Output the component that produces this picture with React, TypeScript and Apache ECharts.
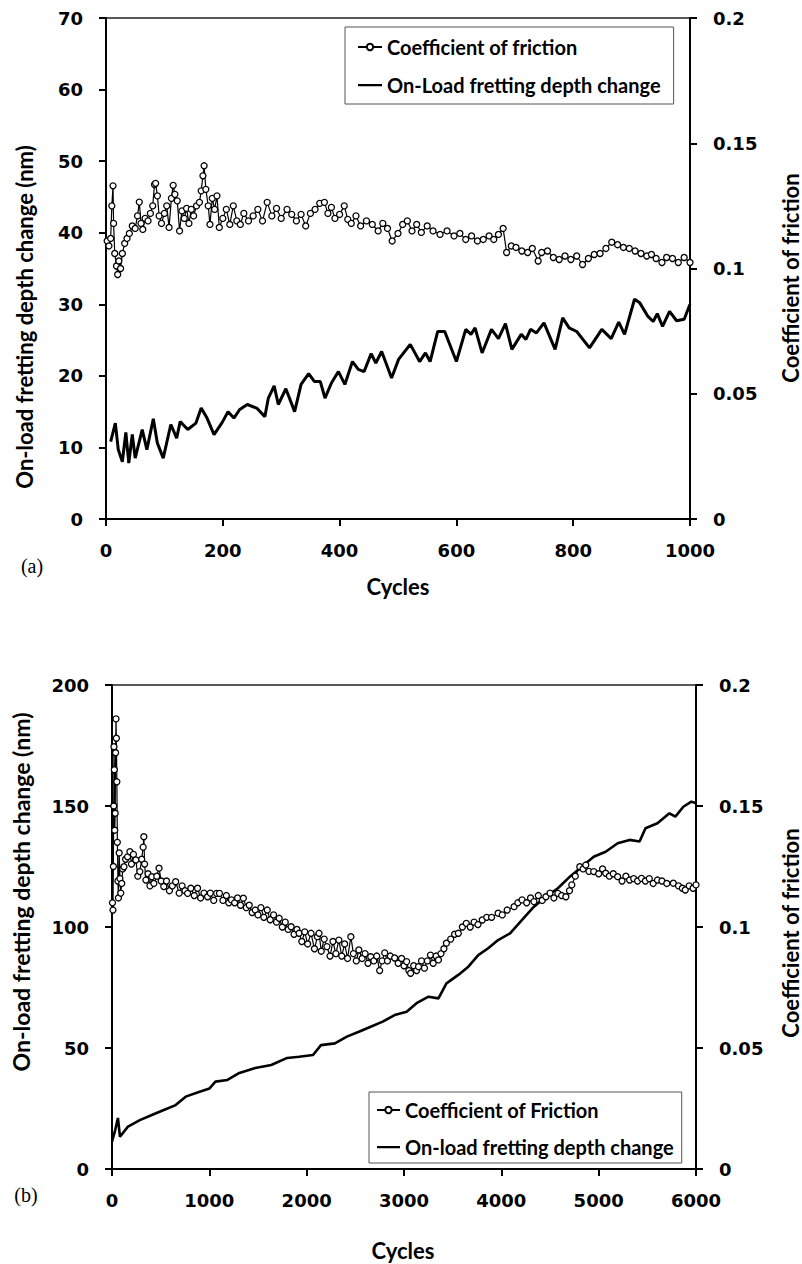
import React, { useEffect, useRef } from "react";
import * as echarts from "echarts";

// ---------- Chart (a) data: cycles 0-1000 ----------
const depthA: [number, number][] = [
  [8, 10.8], [16, 13.4], [21, 9.7], [28, 8.0], [34, 12.1], [39, 7.8], [45, 11.8], [50, 8.5],
  [62, 12.5], [70, 9.7], [81, 14.0], [88, 10.6], [98, 8.5], [111, 13.2], [121, 11.3], [127, 13.6],
  [140, 12.5], [154, 13.4], [163, 15.5], [173, 14.1], [185, 11.8], [199, 13.5], [209, 15.0],
  [219, 14.1], [229, 15.3], [242, 16.0], [258, 15.5], [272, 14.3], [278, 16.9], [288, 18.6],
  [295, 16.0], [308, 18.2], [323, 15.0], [334, 18.8], [347, 20.3], [357, 19.2], [367, 19.2],
  [375, 16.9], [386, 19.0], [398, 20.6], [409, 18.8], [422, 22.0], [432, 20.9], [442, 20.6],
  [454, 23.1], [462, 21.8], [472, 23.4], [489, 19.7], [501, 22.3], [521, 24.4], [537, 22.0],
  [547, 23.2], [555, 22.0], [568, 26.2], [580, 26.2], [600, 22.0], [616, 26.5], [625, 25.8],
  [632, 26.7], [644, 23.2], [660, 26.5], [672, 25.2], [684, 27.3], [695, 23.7], [711, 25.8],
  [719, 25.1], [727, 26.5], [737, 26.0], [750, 27.4], [769, 23.7], [782, 28.1], [793, 26.7],
  [806, 26.2], [828, 23.9], [849, 26.5], [865, 25.2], [878, 27.5], [888, 25.8], [905, 30.7],
  [914, 30.2], [928, 28.3], [937, 27.6], [944, 28.7], [953, 26.9], [965, 29.0], [977, 27.7],
  [990, 27.9], [1000, 30.0],
];

const cofA: [number, number][] = [
  [2, 0.111], [5, 0.109], [8, 0.112], [10, 0.125], [12, 0.133], [13, 0.118], [15, 0.106],
  [18, 0.101], [20, 0.0976], [22, 0.103], [25, 0.1], [28, 0.106], [32, 0.11], [36, 0.112],
  [40, 0.114], [45, 0.117], [50, 0.116], [54, 0.121], [57, 0.1265], [60, 0.118], [63, 0.1156],
  [67, 0.12], [72, 0.119], [76, 0.122], [80, 0.125], [83, 0.1335], [85, 0.134], [88, 0.129],
  [91, 0.121], [95, 0.118], [100, 0.122], [104, 0.125], [108, 0.1164], [112, 0.128],
  [115, 0.1332], [118, 0.1296], [122, 0.127], [126, 0.115], [130, 0.123], [134, 0.12],
  [138, 0.124], [142, 0.118], [146, 0.1236], [150, 0.121], [155, 0.125], [160, 0.1264],
  [163, 0.131], [166, 0.137], [168, 0.141], [171, 0.1316], [175, 0.125], [178, 0.1176],
  [182, 0.128], [186, 0.1236], [190, 0.129], [194, 0.1164], [200, 0.12], [206, 0.1236],
  [212, 0.1176], [218, 0.125], [224, 0.119], [230, 0.1176], [236, 0.122], [244, 0.119],
  [252, 0.121], [260, 0.1236], [268, 0.119], [276, 0.1264], [284, 0.121], [292, 0.124],
  [300, 0.12], [310, 0.1236], [318, 0.1216], [326, 0.119], [334, 0.1216], [342, 0.117],
  [350, 0.122], [358, 0.1236], [366, 0.126], [374, 0.1264], [380, 0.122], [386, 0.1244],
  [392, 0.12], [400, 0.1216], [408, 0.125], [414, 0.1196], [420, 0.118], [428, 0.121],
  [436, 0.117], [446, 0.119], [456, 0.1176], [466, 0.115], [474, 0.118], [482, 0.116],
  [490, 0.111], [500, 0.114], [508, 0.1176], [516, 0.119], [524, 0.115], [532, 0.1176],
  [540, 0.1144], [550, 0.117], [560, 0.115], [572, 0.1136], [584, 0.115], [596, 0.113],
  [606, 0.114], [616, 0.1116], [626, 0.113], [636, 0.111], [646, 0.1116], [656, 0.113],
  [664, 0.1116], [672, 0.1136], [680, 0.116], [686, 0.1064], [694, 0.109], [702, 0.1084],
  [712, 0.107], [722, 0.1064], [730, 0.108], [740, 0.103], [746, 0.1064], [756, 0.107],
  [766, 0.1044], [776, 0.1036], [786, 0.105], [796, 0.1036], [806, 0.105], [816, 0.1016],
  [826, 0.104], [836, 0.1056], [846, 0.106], [856, 0.108], [866, 0.1105], [876, 0.1095],
  [886, 0.1084], [896, 0.108], [906, 0.107], [916, 0.106], [926, 0.105], [934, 0.1056],
  [942, 0.104], [952, 0.1024], [960, 0.1044], [970, 0.104], [980, 0.1024], [990, 0.1044],
  [1000, 0.1024],
];

// ---------- Chart (b) data: cycles 0-6000 ----------
const depthB: [number, number][] = [
  [0, 11.3], [33, 16.1], [61, 21.1], [82, 13.3], [164, 17.5], [286, 20.2], [409, 22.3],
  [532, 24.4], [654, 26.4], [757, 29.9], [900, 31.9], [1002, 33.3], [1063, 36.1], [1186, 36.8],
  [1309, 39.7], [1472, 41.7], [1636, 43.0], [1800, 45.9], [1922, 46.4], [2065, 47.1],
  [2147, 51.2], [2290, 51.9], [2413, 54.7], [2536, 56.7], [2658, 58.8], [2781, 60.9],
  [2904, 63.6], [3027, 65.0], [3129, 68.5], [3252, 71.2], [3354, 70.5], [3436, 76.7],
  [3558, 80.2], [3661, 83.6], [3763, 88.4], [3865, 91.2], [3967, 94.6], [4090, 97.4],
  [4213, 102.9], [4335, 108.4], [4458, 112.5], [4581, 116.0], [4704, 120.8], [4826, 124.9],
  [4949, 129.0], [5072, 131.1], [5195, 134.6], [5318, 136.0], [5420, 135.3], [5481, 140.8],
  [5604, 142.9], [5727, 147.0], [5788, 145.6], [5870, 149.7], [5952, 151.8], [6000, 151.1],
];

const cofB: [number, number][] = [
  [5, 0.11], [10, 0.107], [14, 0.125], [18, 0.15], [20, 0.1745], [24, 0.165], [28, 0.14],
  [33, 0.147], [37, 0.172], [41, 0.186], [45, 0.178], [50, 0.16], [55, 0.135], [61, 0.119],
  [66, 0.112], [74, 0.1306], [82, 0.12], [90, 0.114], [100, 0.118], [110, 0.124], [123, 0.1249],
  [140, 0.128], [160, 0.129], [184, 0.1311], [200, 0.126], [220, 0.13], [245, 0.1277],
  [265, 0.121], [286, 0.1229], [305, 0.128], [320, 0.133], [327, 0.1373], [335, 0.126],
  [348, 0.1194], [370, 0.122], [390, 0.117], [409, 0.1208], [430, 0.118], [460, 0.121],
  [483, 0.1243], [505, 0.119], [532, 0.1167], [560, 0.119], [590, 0.115], [620, 0.117],
  [654, 0.1187], [690, 0.114], [720, 0.117], [750, 0.115], [777, 0.1139], [810, 0.116],
  [845, 0.113], [879, 0.116], [910, 0.112], [945, 0.114], [982, 0.1125], [1010, 0.114],
  [1045, 0.111], [1075, 0.1139], [1104, 0.1139], [1140, 0.111], [1175, 0.113], [1200, 0.11],
  [1227, 0.1112], [1260, 0.11], [1290, 0.112], [1320, 0.109], [1350, 0.1119], [1380, 0.108],
  [1410, 0.109], [1440, 0.106], [1472, 0.107], [1500, 0.105], [1530, 0.108], [1560, 0.104],
  [1595, 0.107], [1625, 0.103], [1660, 0.105], [1690, 0.102], [1718, 0.1036], [1750, 0.1],
  [1780, 0.102], [1810, 0.099], [1840, 0.1001], [1870, 0.097], [1900, 0.099], [1922, 0.0974],
  [1950, 0.094], [1980, 0.098], [2010, 0.093], [2045, 0.0974], [2080, 0.091], [2110, 0.096],
  [2127, 0.0974], [2150, 0.09], [2180, 0.095], [2208, 0.0919], [2240, 0.088], [2270, 0.094],
  [2300, 0.089], [2331, 0.0946], [2360, 0.088], [2390, 0.093], [2420, 0.087], [2454, 0.096],
  [2480, 0.089], [2510, 0.086], [2536, 0.0905], [2570, 0.087], [2600, 0.089], [2630, 0.085],
  [2658, 0.0877], [2690, 0.086], [2720, 0.088], [2750, 0.082], [2775, 0.086], [2802, 0.0893],
  [2830, 0.086], [2860, 0.088], [2904, 0.0872], [2940, 0.085], [2975, 0.087], [3000, 0.084],
  [3027, 0.0857], [3050, 0.082], [3068, 0.0809], [3100, 0.084], [3130, 0.082], [3149, 0.0836],
  [3180, 0.086], [3210, 0.083], [3240, 0.086], [3272, 0.0884], [3300, 0.085], [3330, 0.088],
  [3354, 0.0864], [3380, 0.089], [3410, 0.091], [3436, 0.0933], [3480, 0.095], [3520, 0.097],
  [3558, 0.0974], [3600, 0.1], [3640, 0.1015], [3680, 0.1], [3720, 0.102], [3760, 0.101],
  [3804, 0.1029], [3850, 0.104], [3900, 0.104], [3967, 0.1057], [4010, 0.105], [4060, 0.107],
  [4131, 0.1084], [4170, 0.11], [4213, 0.1112], [4260, 0.11], [4300, 0.112], [4335, 0.1105],
  [4380, 0.113], [4420, 0.111], [4458, 0.1125], [4500, 0.114], [4540, 0.112], [4581, 0.1139],
  [4620, 0.113], [4663, 0.1125], [4700, 0.115], [4724, 0.1174], [4760, 0.121], [4806, 0.1249],
  [4840, 0.124], [4868, 0.1256], [4900, 0.123], [4949, 0.1229], [5000, 0.122], [5040, 0.124],
  [5072, 0.1222], [5110, 0.121], [5150, 0.122], [5195, 0.1208], [5240, 0.119], [5280, 0.121],
  [5318, 0.1194], [5360, 0.12], [5400, 0.119], [5440, 0.1201], [5480, 0.119], [5520, 0.12],
  [5560, 0.118], [5604, 0.1194], [5650, 0.119], [5700, 0.118], [5767, 0.1181], [5820, 0.117],
  [5860, 0.116], [5890, 0.1153], [5930, 0.117], [5970, 0.116], [6000, 0.1174],
];

const SERIES_A = ["Coefficient of friction", "On-Load fretting depth change"];
const SERIES_B = ["Coefficient of Friction", "On-load fretting depth change"];
const Y_TITLE = "On-load fretting depth change (nm)";
const Y2_TITLE = "Coefficient of friction";
const X_TITLE = "Cycles";

const TICK_FONT = "DejaVu Sans";
const TITLE_FONT = "Lato";
// legend icon: a plain thick line (the depth series has no markers)
const LINE_ICON = "path://M0,0L0.01,0L0.01,0.01Z M0,8L0.01,8L0.01,7.99Z M0,3L24,3L24,5.2L0,5.2Z";

function makeXAxis(gridIndex: number, max: number, interval: number) {
  return {
    type: "value",
    gridIndex,
    min: 0,
    max,
    interval,
    axisLine: { show: true, onZero: false, lineStyle: { color: "#000", width: 2 } },
    axisTick: { show: true, inside: false, length: 7, lineStyle: { color: "#000", width: 2 } },
    axisLabel: {
      margin: 22,
      color: "#000",
      fontFamily: TICK_FONT,
      fontWeight: "bold",
      fontSize: 18,
      formatter: (v: number) => String(v),
    },
    splitLine: { show: false },
  };
}

function makeYAxis(gridIndex: number, position: string, max: number, interval: number) {
  return {
    type: "value",
    gridIndex,
    position,
    min: 0,
    max,
    interval,
    axisLine: { show: true, onZero: false, lineStyle: { color: "#000", width: 2 } },
    axisTick: { show: true, inside: false, length: 7, lineStyle: { color: "#000", width: 2 } },
    axisLabel: { margin: 23, color: "#000", fontFamily: TICK_FONT, fontWeight: "bold", fontSize: 18 },
    splitLine: { show: false },
  };
}

function titleText(text: string, x: number, y: number, rotation: number, size = 22) {
  return {
    type: "text",
    x,
    y,
    rotation,
    style: {
      text,
      fill: "#000",
      font: `bold ${size}px ${TITLE_FONT}`,
      align: "center",
      verticalAlign: "middle",
      textAlign: "center",
      textVerticalAlign: "middle",
    },
  };
}

function panelLabel(text: string, x: number, y: number) {
  return {
    type: "text",
    x,
    y,
    style: {
      text,
      fill: "#000",
      font: `20px "Liberation Serif"`,
      align: "center",
      verticalAlign: "middle",
      textAlign: "center",
      textVerticalAlign: "middle",
    },
  };
}

const cofStyle = {
  type: "line",
  symbol: "circle",
  symbolSize: 6,
  showSymbol: true,
  showAllSymbol: true,
  itemStyle: { color: "#fff", borderColor: "#000", borderWidth: 1.3 },
  lineStyle: { color: "#000", width: 1.2 },
  z: 3,
};

const depthStyle = {
  type: "line",
  symbol: "none",
  itemStyle: { color: "#000" },
  lineStyle: { color: "#000", width: 2.6 },
  z: 2,
};

export default function App() {
  const ref = useRef<HTMLDivElement>(null);

  useEffect(() => {
    if (!ref.current) return;
    const chart = echarts.init(ref.current, undefined, { renderer: "svg" });
    const legendText = { color: "#000", fontFamily: TITLE_FONT, fontWeight: "bold", fontSize: 20, lineHeight: 22 };
    chart.setOption({
      animation: false,
      backgroundColor: "#fff",
      grid: [
        { left: 106, top: 18, width: 584, height: 501, containLabel: false, outerBoundsMode: "none", show: true, borderColor: "#222", borderWidth: 1.5, backgroundColor: "transparent" },
        { left: 112, top: 685, width: 584, height: 484, containLabel: false, outerBoundsMode: "none", show: true, borderColor: "#222", borderWidth: 1.5, backgroundColor: "transparent" },
      ],
      xAxis: [makeXAxis(0, 1000, 200), makeXAxis(1, 6000, 1000)],
      yAxis: [
        makeYAxis(0, "left", 70, 10),
        makeYAxis(0, "right", 0.2, 0.05),
        makeYAxis(1, "left", 200, 50),
        makeYAxis(1, "right", 0.2, 0.05),
      ],
      legend: [
        {
          data: [{ name: SERIES_A[0] }, { name: SERIES_A[1], icon: LINE_ICON }],
          orient: "vertical",
          left: 345,
          top: 27,
          padding: [9, 13, 8, 12],
          itemGap: 16,
          itemWidth: 24,
          itemHeight: 8,
          borderColor: "#555",
          borderWidth: 1,
          textStyle: legendText,
          selectedMode: false,
        },
        {
          data: [{ name: SERIES_B[0] }, { name: SERIES_B[1], icon: LINE_ICON }],
          orient: "vertical",
          left: 369,
          top: 1092,
          padding: [7, 8, 5, 7],
          itemGap: 15,
          itemWidth: 23,
          itemHeight: 8,
          borderColor: "#555",
          borderWidth: 1,
          textStyle: legendText,
          selectedMode: false,
        },
      ],
      graphic: [
        titleText(Y_TITLE, 24, 317, Math.PI / 2),
        titleText(Y2_TITLE, 790, 278, Math.PI / 2),
        titleText(X_TITLE, 398, 586, 0),
        panelLabel("(a)", 32, 566),
        titleText(Y_TITLE, 21, 892, Math.PI / 2, 23),
        titleText(Y2_TITLE, 790, 933, Math.PI / 2),
        titleText(X_TITLE, 403, 1250, 0),
        panelLabel("(b)", 26, 1195),
      ],
      series: [
        { ...depthStyle, name: SERIES_A[1], xAxisIndex: 0, yAxisIndex: 0, data: depthA, lineStyle: { color: "#000", width: 3 } },
        { ...cofStyle, name: SERIES_A[0], xAxisIndex: 0, yAxisIndex: 1, data: cofA },
        { ...depthStyle, name: SERIES_B[1], xAxisIndex: 1, yAxisIndex: 2, data: depthB },
        { ...cofStyle, name: SERIES_B[0], xAxisIndex: 1, yAxisIndex: 3, data: cofB },
      ],
    });
    return () => chart.dispose();
  }, []);

  return (
    <div
      ref={ref}
      style={{ position: "absolute", left: 0, top: 0, width: 802, height: 1264 }}
    />
  );
}
